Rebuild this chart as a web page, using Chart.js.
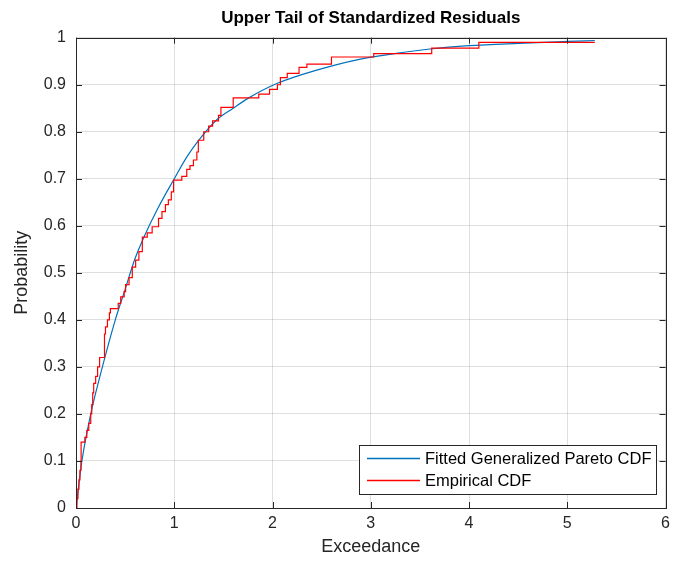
<!DOCTYPE html>
<html>
<head>
<meta charset="utf-8">
<script src="https://cdn.jsdelivr.net/npm/chart.js@4"></script>
<style>
    body { margin: 0; background: #fff; }
    #chartBox { width: 676px; height: 569px; position: relative; }
</style>
</head>
<body>
<div id="chartBox"><canvas id="tailChart"></canvas></div>
<script>
// fitted generalized pareto cdf
const fitX = [0, 0.06, 0.15, 0.25, 0.4, 0.5, 0.6, 0.7, 0.84, 1.0, 1.13, 1.25, 1.43, 1.6, 1.75, 2.05, 2.45, 2.86, 3.3, 3.6, 4.0, 4.5, 5.0, 5.28];
const fitP = [0, 0.10, 0.20, 0.285, 0.40, 0.465, 0.53, 0.58, 0.64, 0.70, 0.747, 0.782, 0.825, 0.85, 0.871, 0.903, 0.931, 0.953, 0.968, 0.976, 0.983, 0.988, 0.992, 0.994];

// empirical cdf steps (exceedance where the jump happens, level after it)
const empX = [0, 0.01, 0.02, 0.03, 0.04, 0.05, 0.052, 0.09, 0.11, 0.13, 0.15, 0.16, 0.17, 0.18, 0.20, 0.22, 0.24, 0.29, 0.29, 0.30, 0.32, 0.34, 0.35, 0.43, 0.455, 0.49, 0.505, 0.54, 0.573, 0.607, 0.64, 0.675, 0.725, 0.775, 0.84, 0.875, 0.91, 0.94, 0.97, 0.993, 1.077, 1.127, 1.16, 1.195, 1.23, 1.245, 1.30, 1.35, 1.39, 1.45, 1.475, 1.60, 1.86, 1.97, 2.05, 2.08, 2.15, 2.27, 2.35, 2.60, 3.03, 3.62, 4.10, 5.28];
const empP = [0, 0.02, 0.04, 0.06, 0.08, 0.10, 0.14, 0.15, 0.165, 0.18, 0.20, 0.22, 0.245, 0.265, 0.28, 0.30, 0.32, 0.335, 0.37, 0.385, 0.40, 0.415, 0.424, 0.435, 0.449, 0.46, 0.475, 0.49, 0.512, 0.527, 0.545, 0.576, 0.585, 0.598, 0.616, 0.63, 0.645, 0.655, 0.672, 0.697, 0.705, 0.72, 0.728, 0.74, 0.757, 0.782, 0.80, 0.812, 0.823, 0.835, 0.852, 0.872, 0.88, 0.89, 0.90, 0.915, 0.924, 0.937, 0.944, 0.959, 0.966, 0.978, 0.99, 0.99];

const xTicks = [0, 1, 2, 3, 4, 5, 6];
const yTicks = [0, 0.1, 0.2, 0.3, 0.4, 0.5, 0.6, 0.7, 0.8, 0.9, 1];

const FONT = "'Liberation Sans', Arial, Helvetica, sans-serif";
const AXIS = '#262626';
const GRID = 'rgba(38,38,38,0.15)';
const FIT_COLOR = '#0072BD';
const EMP_COLOR = '#FF0000';

function toPoints(xs, ys) {
    return xs.map((x, i) => ({ x: x, y: ys[i] }));
}

// box round the axes, matlab style ticks pointing inward
const axesBox = {
    id: 'axesBox',
    afterDatasetsDraw(chart) {
        const { ctx, chartArea: a, scales } = chart;
        ctx.save();
        ctx.strokeStyle = AXIS;
        ctx.lineWidth = 1;
        ctx.beginPath();
        xTicks.forEach(v => {
            const px = Math.round(scales.x.getPixelForValue(v)) + 0.5;
            ctx.moveTo(px, a.bottom); ctx.lineTo(px, a.bottom - 6);
            ctx.moveTo(px, a.top); ctx.lineTo(px, a.top + 6);
        });
        yTicks.forEach(v => {
            const py = Math.round(scales.y.getPixelForValue(v)) + 0.5;
            ctx.moveTo(a.left, py); ctx.lineTo(a.left + 6, py);
            ctx.moveTo(a.right, py); ctx.lineTo(a.right - 6, py);
        });
        ctx.stroke();
        ctx.strokeRect(Math.round(a.left) + 0.5, Math.round(a.top) + 0.5,
            Math.round(a.right - a.left), Math.round(a.bottom - a.top));
        ctx.restore();
    }
};

// legend drawn inside the plot, lower right corner
const boxLegend = {
    id: 'boxLegend',
    afterDraw(chart) {
        const { ctx, chartArea: a } = chart;
        const sets = chart.data.datasets;
        const colors = [FIT_COLOR, EMP_COLOR];
        ctx.save();
        ctx.font = '16.5px ' + FONT;
        let textW = 0;
        sets.forEach(d => { textW = Math.max(textW, ctx.measureText(d.label).width); });
        const w = Math.round(66 + textW + 4);
        const h = 49;
        const right = Math.round(a.right) - 10;
        const bottom = Math.round(a.bottom) - 14;
        const left = right - w;
        const top = bottom - h;
        ctx.fillStyle = '#fff';
        ctx.fillRect(left, top, w, h);
        ctx.strokeStyle = AXIS;
        ctx.lineWidth = 1;
        ctx.strokeRect(left + 0.5, top + 0.5, w, h);
        sets.forEach((d, i) => {
            const y = Math.round(top + 13 + i * 22) + 0.5;
            ctx.beginPath();
            ctx.strokeStyle = colors[i];
            ctx.lineWidth = 1.3;
            ctx.moveTo(left + 8, y);
            ctx.lineTo(left + 61, y);
            ctx.stroke();
            ctx.fillStyle = '#000';
            ctx.textBaseline = 'middle';
            ctx.fillText(d.label, left + 66, y + 1);
        });
        ctx.restore();
    }
};

const data = {
    datasets: [{
        label: 'Fitted Generalized Pareto CDF',
        data: toPoints(fitX, fitP),
        borderColor: FIT_COLOR,
        borderWidth: 1.2,
        pointRadius: 0,
        cubicInterpolationMode: 'monotone',
        order: 1
    }, {
        label: 'Empirical CDF',
        data: toPoints(empX, empP),
        borderColor: EMP_COLOR,
        borderWidth: 1.2,
        pointRadius: 0,
        stepped: true,
        order: 0
    }]
};

const config = {
    type: 'line',
    data: data,
    options: {
        responsive: true,
        maintainAspectRatio: false,
        animation: false,
        layout: { padding: { left: 0, right: 9, top: 0, bottom: 0 } },
        plugins: {
            legend: { display: false },
            tooltip: { enabled: false },
            title: {
                display: true,
                fullSize: false,
                text: 'Upper Tail of Standardized Residuals',
                color: '#000',
                font: { size: 17, weight: 'bold', family: FONT },
                padding: { top: 8, bottom: 9.3 }
            }
        },
        scales: {
            x: {
                type: 'linear',
                min: 0,
                max: 6,
                afterBuildTicks: scale => { scale.ticks = xTicks.map(v => ({ value: v })); },
                afterFit: scale => { scale.height = 61; },
                grid: { color: GRID, drawTicks: false },
                border: { display: false },
                ticks: { color: AXIS, padding: 6, font: { size: 16, family: FONT } },
                title: {
                    display: true,
                    text: 'Exceedance',
                    color: AXIS,
                    font: { size: 18, family: FONT },
                    padding: 11
                }
            },
            y: {
                type: 'linear',
                min: 0,
                max: 1,
                afterBuildTicks: scale => { scale.ticks = yTicks.map(v => ({ value: v })); },
                afterFit: scale => { scale.width = 76; },
                grid: { color: GRID, drawTicks: false },
                border: { display: false },
                ticks: {
                    color: AXIS,
                    padding: 10,
                    font: { size: 16, family: FONT },
                    callback: v => String(Math.round(v * 10) / 10)
                },
                title: {
                    display: true,
                    text: 'Probability',
                    color: AXIS,
                    font: { size: 18, family: FONT },
                    padding: 11
                }
            }
        }
    },
    plugins: [axesBox, boxLegend]
};

const tailChart = new Chart(document.getElementById('tailChart'), config);
</script>
</body>
</html>
